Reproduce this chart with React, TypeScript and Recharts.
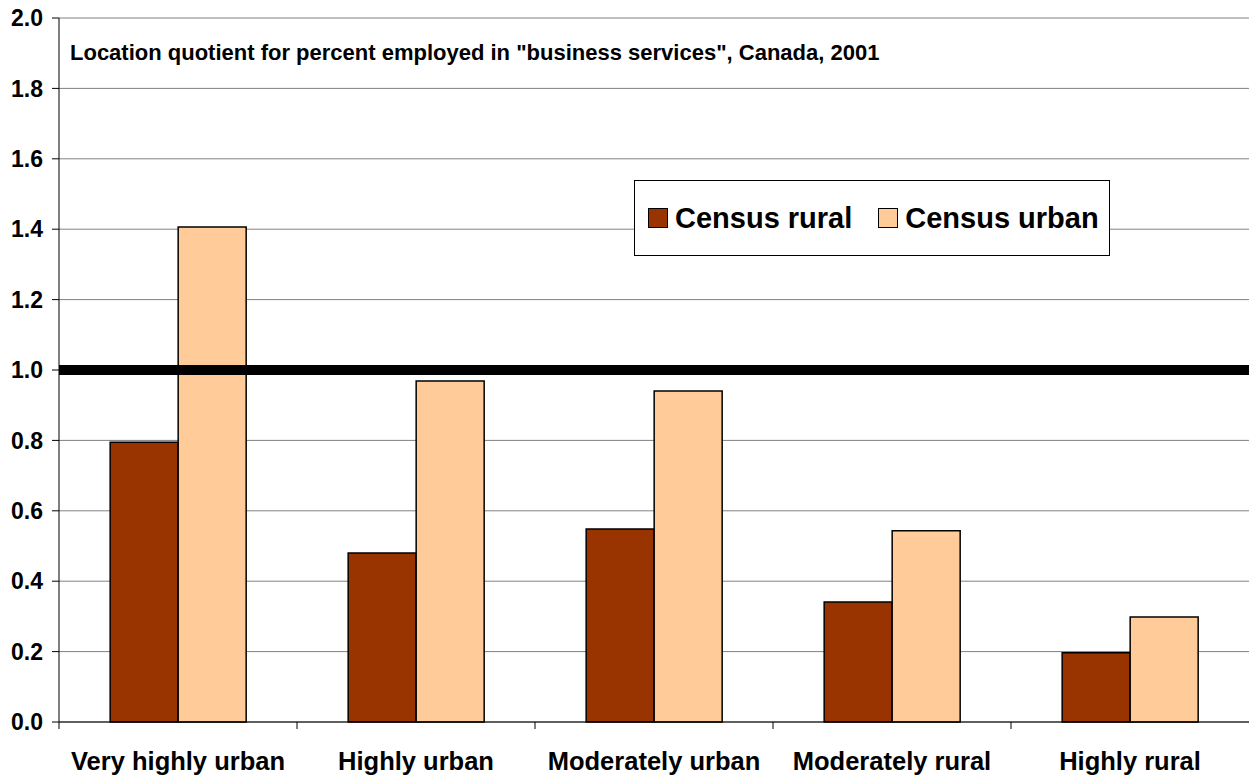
import React from 'react';
import { BarChart, Bar, XAxis, YAxis, CartesianGrid, ReferenceLine } from 'recharts';

const categories = ['Very highly urban', 'Highly urban', 'Moderately urban', 'Moderately rural', 'Highly rural'];
const censusRural = [0.795, 0.48, 0.548, 0.341, 0.197];
const censusUrban = [1.406, 0.969, 0.94, 0.543, 0.298];
const yTicks = [0, 0.2, 0.4, 0.6, 0.8, 1.0, 1.2, 1.4, 1.6, 1.8, 2.0];

const data = categories.map((c, i) => ({ name: c, rural: censusRural[i], urban: censusUrban[i] }));

const W = 1249;
const H = 776;
const LEFT = 59;
const font = '"Liberation Sans", Arial, sans-serif';

const XTick = (props: any) => {
  const { x, y, payload } = props;
  const band = (W - LEFT) / categories.length;
  return (
    <g>
      <line x1={x - band / 2} x2={x - band / 2} y1={y - 8} y2={y - 1} stroke="#000" />
      <text x={x} y={y + 40} textAnchor="middle" fontFamily={font} fontWeight="bold" fontSize={25.5} fill="#000">
        {payload.value}
      </text>
    </g>
  );
};

const legendSwatch = (color: string, ml: number) => (
  <span style={{ display: 'inline-block', width: 18, height: 18, background: color, border: '1px solid #000', marginLeft: ml, marginRight: 7 }} />
);

export default function App() {
  return (
    <div style={{ position: 'absolute', left: 0, top: 0, width: W, height: H, background: '#fff' }}>
      <BarChart width={W} height={H} data={data} margin={{ top: 18, right: 0, bottom: 0, left: 0 }} barCategoryGap="21.5%" barGap={0}>
        <CartesianGrid vertical={false} stroke="#808080" />
        <XAxis dataKey="name" height={54} axisLine={{ stroke: '#000' }} tickLine={false} tick={<XTick />} interval={0} />
        <YAxis
          domain={[0, 2]}
          ticks={yTicks}
          width={LEFT}
          axisLine={{ stroke: '#000' }}
          tickLine={{ stroke: '#000' }}
          tickSize={7}
          tickMargin={9}
          tickFormatter={(v: number) => v.toFixed(1)}
          tick={{ fontFamily: font, fontWeight: 'bold', fontSize: 23, fill: '#000' }}
        />
        <Bar dataKey="rural" fill="#993300" stroke="#000" strokeWidth={1.5} isAnimationActive={false} />
        <Bar dataKey="urban" fill="#FFCC99" stroke="#000" strokeWidth={1.5} isAnimationActive={false} />
        <ReferenceLine y={1} stroke="#000" strokeWidth={10} />
      </BarChart>
      <div
        style={{
          position: 'absolute',
          left: 634,
          top: 180,
          width: 474,
          height: 74,
          border: '1px solid #000',
          background: '#fff',
          display: 'flex',
          alignItems: 'center',
          fontFamily: font,
          fontWeight: 'bold',
          fontSize: 29,
          whiteSpace: 'nowrap',
        }}
      >
        {legendSwatch('#993300', 13)}
        <span>Census rural</span>
        {legendSwatch('#FFCC99', 26)}
        <span>Census urban</span>
      </div>
      <div style={{ position: 'absolute', left: 70, top: 40, fontFamily: font, fontWeight: 'bold', fontSize: 22, color: '#000', whiteSpace: 'nowrap' }}>
        Location quotient for percent employed in "business services", Canada, 2001
      </div>
    </div>
  );
}
